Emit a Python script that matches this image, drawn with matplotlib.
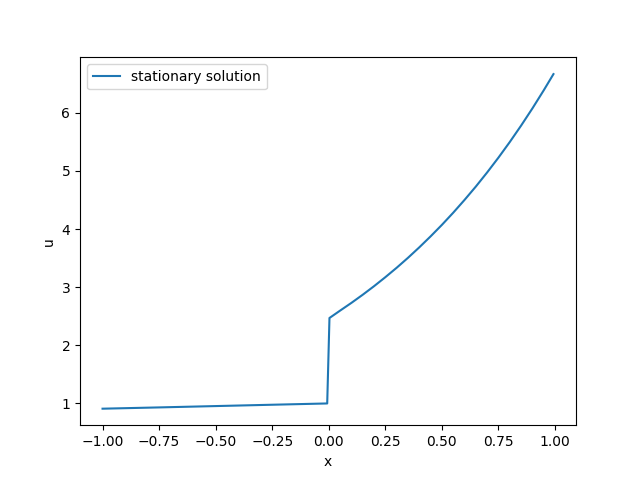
import matplotlib
matplotlib.use("Agg")
import matplotlib.pyplot as plt

# values
x_values = [-1.0, -0.75, -0.5, -0.25, -0.007, 0.003,
            0.05, 0.1, 0.15, 0.2, 0.25, 0.3, 0.35, 0.4, 0.45, 0.5,
            0.55, 0.6, 0.65, 0.7, 0.75, 0.8, 0.85, 0.9, 0.95, 0.993]
u_values = [0.910, 0.932, 0.955, 0.978, 1.000, 2.470,
            2.597, 2.730, 2.870, 3.017, 3.172, 3.334, 3.505, 3.685, 3.874, 4.072,
            4.281, 4.501, 4.731, 4.974, 5.229, 5.497, 5.779, 6.075, 6.386, 6.665]

fig, ax = plt.subplots(figsize=(6.4, 4.78), dpi=100)
ax.plot(x_values, u_values, label="stationary solution")
ax.set_xlabel("x")
ax.set_ylabel("u")
ax.legend()

fig.savefig("out.png", dpi=100)
